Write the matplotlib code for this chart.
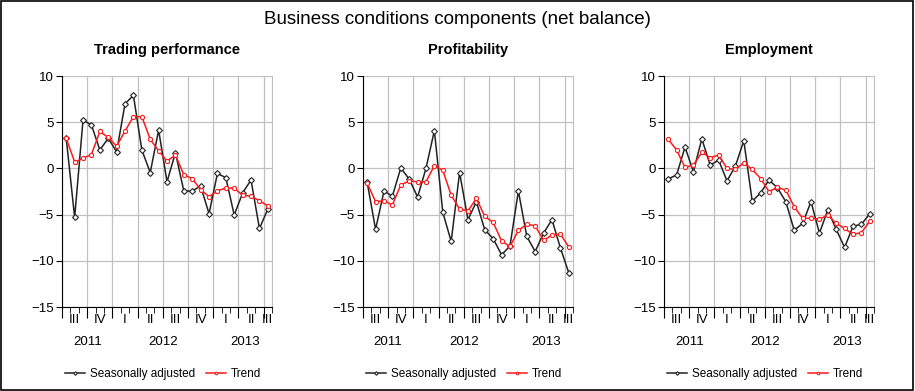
import matplotlib
matplotlib.use("Agg")
import matplotlib.pyplot as plt
import matplotlib.transforms as mtransforms
from matplotlib.patches import Rectangle

plt.rcParams['font.family'] = ['Liberation Sans', 'DejaVu Sans']

# monthly observations, Jul 2011 .. Jul 2013
trading_sa = [3.25, -5.3, 5.24, 4.7, 2.0, 3.25, 1.8, 7.0, 7.9, 2.0, -0.45, 4.15, -1.45,
              1.7, -2.45, -2.45, -1.9, -4.9, -0.55, -1.0, -5.05, -2.65, -1.25, -6.5, -4.4]
trading_trend = [3.25, 0.7, 1.1, 1.5, 4.0, 3.35, 2.4, 4.05, 5.6, 5.6, 3.15, 1.9, 0.8,
                 1.45, -0.7, -1.1, -2.3, -3.05, -2.45, -2.1, -2.15, -2.9, -3.0, -3.5, -4.05]
profit_sa = [-1.5, -6.6, -2.45, -3.0, 0.05, -1.15, -3.1, 0.0, 4.1, -4.75, -7.9, -0.45, -5.55,
             -3.6, -6.65, -7.6, -9.35, -8.4, -2.45, -7.35, -9.0, -7.0, -5.55, -8.6, -11.3]
profit_trend = [-1.6, -3.6, -3.5, -3.95, -1.8, -1.35, -1.45, -1.45, 0.3, -0.2, -2.9, -4.4, -4.6,
                -3.25, -5.2, -5.85, -7.85, -8.45, -6.7, -6.05, -6.2, -7.8, -7.2, -7.1, -8.5]
employ_sa = [-1.15, -0.7, 2.3, -0.35, 3.2, 0.35, 0.9, -1.35, 0.25, 3.0, -3.55, -2.65, -1.25,
             -2.1, -3.6, -6.7, -5.95, -3.6, -7.0, -4.5, -6.6, -8.55, -6.25, -6.05, -4.9]
employ_trend = [3.15, 2.0, 0.1, 0.35, 1.75, 1.15, 1.45, 0.0, -0.1, 0.6, -0.1, -1.1, -2.5,
                -2.05, -2.35, -4.15, -5.4, -5.4, -5.5, -5.05, -5.95, -6.5, -7.15, -6.95, -5.7]

titles = ["Trading performance", "Profitability", "Employment"]
quarter_labels = ["III", "IV", "I", "II", "III", "IV", "I", "II", "III"]
quarter_pos = [1.5, 4.5, 7.5, 10.5, 13.5, 16.5, 19.5, 22.5, 24.5]
year_labels = ["2011", "2012", "2013"]
year_pos = [3.0, 12.0, 21.75]

panels = [(trading_sa, trading_trend), (profit_sa, profit_trend), (employ_sa, employ_trend)]
lefts = [0.0678, 0.3967, 0.7257]

fig = plt.figure(figsize=(9.15, 3.91), dpi=100)
fig.text(0.5, 0.95, "Business conditions components (net balance)",
         ha='center', va='center', fontsize=13.5)

for (sa, trend), title, left in zip(panels, titles, lefts):
    ax = fig.add_axes([left, 0.2148, 0.2295, 0.5908])
    x = [i + 0.5 for i in range(len(sa))]
    ax.plot(x, sa, color='#222222', lw=1.1, marker='D', ms=3, mfc='white',
            mec='#222222', mew=0.8, label='Seasonally adjusted', zorder=3)
    ax.plot(x, trend, color='#ff1a1a', lw=1.1, marker='o', ms=3, mfc='white',
            mec='#ff1a1a', mew=0.8, label='Trend', zorder=4)
    ax.set_xlim(0, 25)
    ax.set_ylim(-15, 10)
    ax.set_yticks([-15, -10, -5, 0, 5, 10])
    ax.set_xticks(range(0, 26, 3))
    ax.set_xticks(range(0, 26), minor=True)
    ax.set_xticklabels([])
    ax.grid(True, color='#c0c0c0', lw=0.9, which='major')
    ax.set_axisbelow(True)
    ax.spines['top'].set_visible(False)
    ax.spines['right'].set_color('#c0c0c0')
    ax.tick_params(axis='y', direction='out', length=4, labelsize=9.5, pad=2)
    ax.tick_params(axis='x', which='major', direction='out', length=8)
    ax.tick_params(axis='x', which='minor', direction='out', length=4)
    ax.set_title(title, fontsize=10.5, fontweight='bold', pad=16)

    trans = mtransforms.blended_transform_factory(ax.transData, ax.transAxes)
    for lab, p in zip(quarter_labels, quarter_pos):
        ax.text(p, -0.058, lab, transform=trans, ha='center', va='center', fontsize=9.5)
    for lab, p in zip(year_labels, year_pos):
        ax.text(p, -0.152, lab, transform=trans, ha='center', va='center', fontsize=9.5)

    ax.legend(loc='center', bbox_to_anchor=(0.48, -0.29), ncol=2, frameon=False,
              fontsize=8.5, handlelength=1.7, columnspacing=0.9, handletextpad=0.4,
              markerscale=0.6)

fig.patches.append(Rectangle((0.001, 0.003), 0.997, 0.994, transform=fig.transFigure,
                             fill=False, edgecolor='black', lw=1.2))

fig.savefig("out.png", dpi=100)
